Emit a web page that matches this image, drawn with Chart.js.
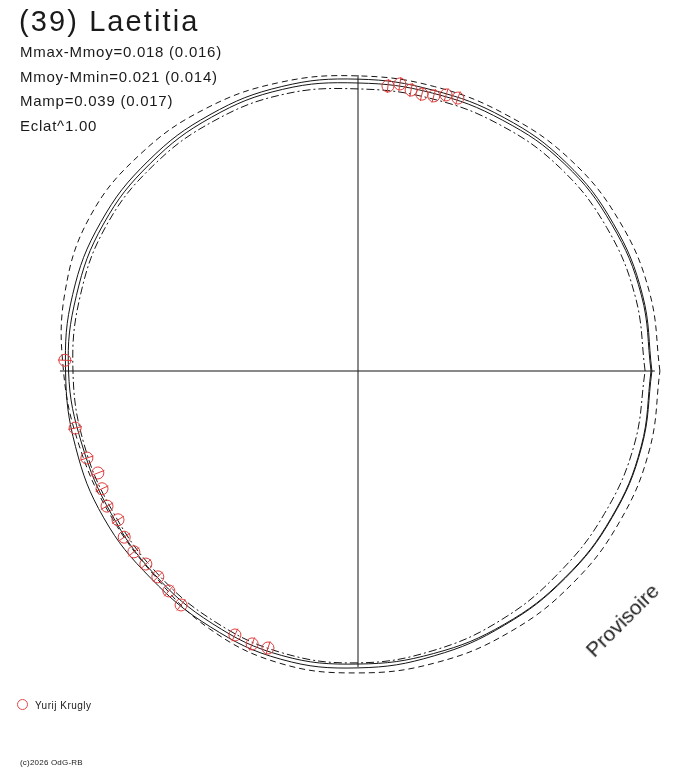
<!DOCTYPE html>
<html>
<head>
<meta charset="utf-8">
<title>(39) Laetitia</title>
<script src="https://cdn.jsdelivr.net/npm/chart.js@4/dist/chart.umd.min.js"></script>
<style>
  html, body { margin: 0; padding: 0; background: #fff; }
  #wrap { position: relative; width: 688px; height: 768px; overflow: hidden; font-family: "Liberation Sans", Arial, sans-serif; color: #1a1a1a; }
  #wrap canvas { position: absolute; left: 0; top: 0; }
  .txt { position: absolute; white-space: nowrap; line-height: 1; }
  #title { left: 19px; top: 7px; font-size: 29px; letter-spacing: 2.1px; }
  .info { left: 20px; font-size: 15px; letter-spacing: 0.75px; }
  #legend { left: 17px; top: 699px; font-size: 10px; letter-spacing: 0.5px; }
  #legend .mark { display: inline-block; width: 9px; height: 9px; border: 1px solid #e04848; border-radius: 50%; vertical-align: -1px; margin-right: 7px; }
  #copy { left: 20px; top: 759px; font-size: 8px; letter-spacing: 0.2px; }
  #prov { left: 622px; top: 620px; font-size: 21px; transform: translate(-50%, -50%) rotate(-45deg); }
</style>
</head>
<body>
<div id="wrap">
  <canvas id="polar" width="688" height="768"></canvas>
  <div class="txt" id="title">(39) Laetitia</div>
  <div class="txt info" style="top:44px">Mmax-Mmoy=0.018 (0.016)</div>
  <div class="txt info" style="top:69px">Mmoy-Mmin=0.021 (0.014)</div>
  <div class="txt info" style="top:93px">Mamp=0.039 (0.017)</div>
  <div class="txt info" style="top:118px">Eclat^1.00</div>
  <div class="txt" id="legend"><span class="mark"></span>Yurij Krugly</div>
  <div class="txt" id="copy">(c)2026 OdG-RB</div>
  <div class="txt" id="prov">Provisoire</div>
</div>
<script>
// Phase angles (degrees) at which the curves are sampled
const curveAngles = [0, 15, 30, 45, 60, 75, 90, 105, 120, 135, 150, 165,
                     180, 195, 210, 225, 240, 255, 270, 285, 300, 315, 330, 345];

// Radii of the curves (1 = length of the axis cross)
const fitMain = [0.993, 0.995, 0.996, 0.995, 0.988, 0.982, 0.986, 0.995, 1.000, 1.003, 1.004, 0.998,
                 0.988, 0.988, 0.992, 0.990, 0.998, 1.008, 1.003, 0.996, 0.991, 0.990, 0.991, 0.992];
const fitAlt  = [0.990, 0.991, 0.990, 0.988, 0.978, 0.972, 0.973, 0.985, 0.990, 0.992, 0.993, 0.985,
                 0.978, 0.965, 0.963, 0.972, 0.985, 0.995, 0.990, 0.988, 0.988, 0.988, 0.989, 0.990];
const envOuter = [1.020, 1.020, 1.018, 1.012, 1.000, 0.995, 0.997, 1.010, 1.025, 1.038, 1.045, 1.025,
                  0.995, 0.975, 0.968, 0.975, 1.005, 1.022, 1.020, 1.020, 1.020, 1.020, 1.020, 1.020];
const envInner = [0.970, 0.970, 0.970, 0.968, 0.960, 0.953, 0.953, 0.968, 0.975, 0.980, 0.982, 0.972,
                  0.963, 0.958, 0.955, 0.963, 0.975, 0.986, 0.986, 0.978, 0.970, 0.962, 0.962, 0.966];

// Observations (Yurij Krugly): phase angle and radius
const obsAngle  = [84.0, 81.7, 79.3, 77.0, 74.6, 72.3, 69.9,
                   177.9, 191.4, 197.8, 201.4, 204.7, 208.3, 211.8, 215.4, 218.9,
                   222.3, 225.8, 229.3, 232.9, 245.0, 248.8, 252.0];
const obsRadius = [0.968, 0.980, 0.966, 0.960, 0.964, 0.979, 0.982,
                   0.991, 0.975, 0.962, 0.944, 0.952, 0.963, 0.954, 0.969, 0.973,
                   0.969, 0.970, 0.980, 0.991, 0.984, 0.989, 0.984];

// Axis cross extents
const axisX = [-1.007, 1.003];
const axisY = [-1.0, 1.0];

// Visible window (the plot centre is not the canvas centre)
const xRange = [-1.2095, 1.1149];
const yRange = [-1.3412, 1.2534];

const toXY = (deg, r) => {
    const a = deg * Math.PI / 180;
    return { x: r * Math.cos(a), y: r * Math.sin(a) };
};

function closedCurve(radii) {
    const pts = curveAngles.map((a, i) => toXY(a, radii[i]));
    pts.push(pts[0]);
    return pts;
}

const obsPoints = obsAngle.map((a, i) => toXY(a, obsRadius[i]));
const ink = '#151515';
const red = '#e03c3c';

function curveSet(data, dash) {
    return {
        data: data,
        borderColor: ink,
        borderWidth: 1,
        borderDash: dash,
        pointRadius: 0,
        tension: 0.4,
        fill: false,
        order: 2
    };
}

new Chart(document.getElementById('polar'), {
    type: 'line',
    data: {
        datasets: [
            // markers: circle plus a radial bar
            {
                data: obsPoints,
                showLine: false,
                pointStyle: 'circle',
                pointRadius: 6,
                pointBorderWidth: 1,
                pointBorderColor: red,
                pointBackgroundColor: 'rgba(0,0,0,0)',
                order: 0
            },
            {
                data: obsPoints,
                showLine: false,
                pointStyle: 'line',
                pointRadius: 7,
                pointBorderWidth: 1,
                pointBorderColor: red,
                rotation: c => c.raw ? -Math.atan2(c.raw.y, c.raw.x) * 180 / Math.PI : 0,
                order: 0
            },
            curveSet(closedCurve(fitMain), []),
            curveSet(closedCurve(fitAlt), []),
            curveSet(closedCurve(envOuter), [6, 4]),
            curveSet(closedCurve(envInner), [8, 3, 2, 3]),
            {
                data: [{ x: axisX[0], y: 0 }, { x: axisX[1], y: 0 }],
                borderColor: ink, borderWidth: 1, pointRadius: 0, order: 3
            },
            {
                data: [{ x: 0, y: axisY[0] }, { x: 0, y: axisY[1] }],
                borderColor: ink, borderWidth: 1, pointRadius: 0, order: 3
            }
        ]
    },
    options: {
        responsive: false,
        animation: false,
        events: [],
        layout: { padding: 0, autoPadding: false },
        plugins: { legend: { display: false }, tooltip: { enabled: false } },
        scales: {
            x: { type: 'linear', display: false, min: xRange[0], max: xRange[1] },
            y: { type: 'linear', display: false, min: yRange[0], max: yRange[1] }
        }
    }
});
</script>
</body>
</html>
